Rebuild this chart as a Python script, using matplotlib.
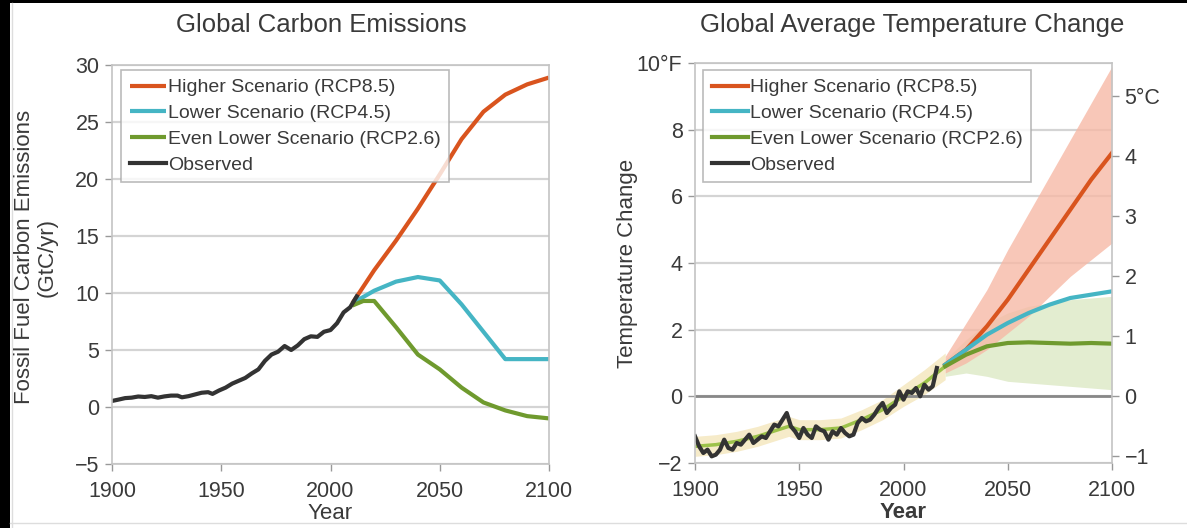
import matplotlib
matplotlib.use("Agg")
import matplotlib.pyplot as plt
from matplotlib.patches import Rectangle
from matplotlib.lines import Line2D

plt.rcParams['font.family'] = ['Liberation Sans', 'DejaVu Sans']

# ---------------- data: carbon emissions (GtC/yr) ----------------
obs_em_years = [1900, 1903, 1906, 1909, 1912, 1915, 1918, 1921, 1924, 1927, 1930, 1932, 1935,
                1938, 1941, 1944, 1946, 1949, 1952, 1955, 1958, 1961, 1964, 1967, 1970, 1973,
                1976, 1979, 1982, 1985, 1988, 1991, 1994, 1997, 2000, 2003, 2006, 2009, 2012]
obs_em = [0.53, 0.65, 0.78, 0.82, 0.92, 0.88, 0.95, 0.82, 0.93, 1.0, 1.0, 0.85, 0.95,
          1.1, 1.25, 1.3, 1.15, 1.45, 1.7, 2.05, 2.3, 2.55, 2.95, 3.3, 4.05, 4.6,
          4.85, 5.35, 5.0, 5.4, 5.95, 6.2, 6.15, 6.6, 6.75, 7.35, 8.3, 8.75, 9.7]

em_proj_years = [2010, 2020, 2030, 2040, 2050, 2060, 2070, 2080, 2090, 2100]
em_rcp85 = [9.1, 12.0, 14.6, 17.4, 20.4, 23.5, 25.9, 27.4, 28.3, 28.9]
em_rcp45 = [9.1, 10.2, 11.0, 11.4, 11.1, 9.0, 6.6, 4.2, 4.2, 4.2]
em26_years = [2010, 2015, 2020, 2030, 2040, 2050, 2060, 2070, 2080, 2090, 2100]
em_rcp26 = [8.9, 9.3, 9.3, 7.0, 4.6, 3.3, 1.7, 0.4, -0.3, -0.8, -1.0]

em_yticks = [-5, 0, 5, 10, 15, 20, 25, 30]
em_yticklabels = ['\u22125', '0', '5', '10', '15', '20', '25', '30']
xticks = [1900, 1950, 2000, 2050, 2100]

# ---------------- data: temperature change (°F) ----------------
obs_t_years = list(range(1900, 2017, 2))
obs_t = [-1.2, -1.5, -1.7, -1.6, -1.8, -1.75, -1.6, -1.3, -1.55, -1.6,
         -1.4, -1.45, -1.3, -1.15, -1.4, -1.3, -1.2, -1.25, -1.05, -0.85,
         -0.9, -0.7, -0.5, -0.9, -1.05, -1.25, -0.95, -1.15, -1.25, -0.9,
         -1.0, -1.05, -1.3, -1.05, -1.15, -0.95, -1.1, -1.2, -1.15, -0.8,
         -0.65, -0.75, -0.7, -0.55, -0.35, -0.2, -0.5, -0.35, -0.25, 0.15,
         -0.1, 0.15, 0.1, 0.25, 0.0, 0.35, 0.2, 0.3, 0.85]

hist_years = [1900, 1910, 1920, 1930, 1940, 1945, 1950, 1960, 1970, 1980, 1990, 2000, 2010, 2020]
hist_mean = [-1.5, -1.45, -1.35, -1.2, -1.0, -0.9, -1.0, -1.0, -0.95, -0.7, -0.4, 0.0, 0.4, 0.9]
hist_low = [-1.8, -1.75, -1.65, -1.5, -1.3, -1.2, -1.3, -1.3, -1.25, -1.0, -0.7, -0.3, 0.05, 0.5]
hist_high = [-1.2, -1.15, -1.05, -0.9, -0.7, -0.6, -0.7, -0.7, -0.65, -0.4, -0.1, 0.35, 0.8, 1.3]

t_proj_years = [2020, 2030, 2040, 2050, 2060, 2070, 2080, 2090, 2100]
t_rcp85 = [0.95, 1.4, 2.1, 2.9, 3.8, 4.7, 5.6, 6.5, 7.3]
t_rcp85_low = [0.7, 1.0, 1.4, 1.9, 2.4, 3.0, 3.6, 4.1, 4.6]
t_rcp85_high = [1.2, 2.2, 3.2, 4.4, 5.5, 6.6, 7.7, 8.8, 9.9]
t_rcp45 = [0.95, 1.4, 1.85, 2.2, 2.5, 2.75, 2.95, 3.05, 3.15]
t_rcp26 = [0.9, 1.25, 1.5, 1.6, 1.62, 1.6, 1.58, 1.6, 1.58]
t_rcp26_low = [0.6, 0.7, 0.6, 0.45, 0.4, 0.35, 0.3, 0.25, 0.2]
t_rcp26_high = [1.1, 1.7, 2.2, 2.5, 2.7, 2.8, 2.9, 2.95, 3.0]

t_yticks = [-2, 0, 2, 4, 6, 8, 10]
t_yticklabels = ['\u22122', '0', '2', '4', '6', '8', '10\u00b0F']
c_yticks = [-1, 0, 1, 2, 3, 4, 5]
c_yticklabels = ['\u22121', '0', '1', '2', '3', '4', '5\u00b0C']

labels = ['Higher Scenario (RCP8.5)', 'Lower Scenario (RCP4.5)',
          'Even Lower Scenario (RCP2.6)', 'Observed']

# ---------------- styles ----------------
RED = '#d9541e'
CYAN = '#45b5c4'
GREEN = '#6f9a2e'
BLACK = '#333333'
TXT = '#3a3a3a'
GRID = '#d4d4d4'
SPINE = '#c4c4c4'

W, H = 1187, 528
fig = plt.figure(figsize=(W / 100, H / 100), dpi=100, facecolor='black')
fig.patches.append(Rectangle((10 / W, 0), 1 - 10 / W, 1 - 3 / H, transform=fig.transFigure,
                             facecolor='white', edgecolor='none', zorder=-10))
fig.lines.append(Line2D([12 / W, 12 / W], [0, 1 - 3 / H], transform=fig.transFigure,
                        color='#dddddd', lw=1))
fig.lines.append(Line2D([10 / W, 1], [5 / H, 5 / H], transform=fig.transFigure,
                        color='#dddddd', lw=1))


def style_axes(ax):
    for s in ax.spines.values():
        s.set_color(SPINE)
        s.set_linewidth(1.2)
    ax.tick_params(axis='both', colors='#999999', labelcolor=TXT, labelsize=15.5,
                   length=5, width=1)
    ax.tick_params(axis='y', pad=4)
    ax.tick_params(axis='x', pad=7)
    ax.yaxis.grid(True, color=GRID, lw=1.6)
    ax.xaxis.grid(False)
    ax.set_axisbelow(True)


def make_legend(ax, x_px):
    leg = ax.legend(loc='upper left', bbox_to_anchor=(x_px / W, 1 - 70 / H),
                    bbox_transform=fig.transFigure, fontsize=14, frameon=True,
                    fancybox=False, handlelength=1.85, handletextpad=0.1,
                    labelspacing=0.42, borderpad=0.45, borderaxespad=0)
    leg.get_frame().set_edgecolor('#aaaaaa')
    leg.get_frame().set_linewidth(1.2)
    for t in leg.get_texts():
        t.set_color(TXT)
    leg.set_zorder(5)
    return leg


# ---------------- left panel ----------------
ax1 = fig.add_axes([112 / W, 1 - 464 / H, (549 - 112) / W, (464 - 65) / H])
style_axes(ax1)
ax1.plot(em_proj_years, em_rcp85, color=RED, lw=3, solid_capstyle='butt', label=labels[0])
ax1.plot(em_proj_years, em_rcp45, color=CYAN, lw=3, solid_capstyle='butt', label=labels[1])
ax1.plot(em26_years, em_rcp26, color=GREEN, lw=3, solid_capstyle='butt', label=labels[2])
ax1.plot(obs_em_years, obs_em, color=BLACK, lw=3, label=labels[3])
ax1.set_xlim(1900, 2100)
ax1.set_ylim(-5, 30)
ax1.set_xticks(xticks)
ax1.set_yticks(em_yticks)
ax1.set_yticklabels(em_yticklabels)
ax1.set_xlabel('Year', fontsize=16, color=TXT, labelpad=1)
fig.text(321 / W, 1 - 25 / H, 'Global Carbon Emissions', ha='center', va='center',
         fontsize=18.5, color=TXT)
fig.text(36 / W, 1 - 257 / H, 'Fossil Fuel Carbon Emissions\n(GtC/yr)', ha='center',
         va='center', rotation=90, fontsize=16, color=TXT, linespacing=1.1)
make_legend(ax1, 121)

# ---------------- right panel ----------------
ax2 = fig.add_axes([695 / W, 1 - 463 / H, (1112 - 695) / W, (463 - 63) / H])
style_axes(ax2)
ax2.fill_between(hist_years, hist_low, hist_high, color='#f4e6bc', alpha=0.8, lw=0)
ax2.fill_between(t_proj_years, t_rcp26_low, t_rcp26_high, color='#e3edd0', lw=0)
ax2.fill_between(t_proj_years, t_rcp85_low, t_rcp85_high, color='#f7b9a6', alpha=0.8, lw=0)
ax2.axhline(0, color='#888888', lw=2, zorder=1.5)
ax2.plot(hist_years, hist_mean, color='#9cc24a', lw=2.5)
ax2.plot(t_proj_years, t_rcp85, color=RED, lw=3, label=labels[0])
ax2.plot(t_proj_years, t_rcp45, color=CYAN, lw=3, label=labels[1])
ax2.plot(t_proj_years, t_rcp26, color=GREEN, lw=3, label=labels[2])
ax2.plot(obs_t_years, obs_t, color=BLACK, lw=3, label=labels[3])
ax2.set_xlim(1900, 2100)
ax2.set_ylim(-2, 10)
ax2.set_xticks(xticks)
ax2.set_yticks(t_yticks)
ax2.set_yticklabels(t_yticklabels)
ax2.set_xlabel('Year', fontsize=16, color=TXT, labelpad=1, fontweight='bold')
fig.text(912 / W, 1 - 25 / H, 'Global Average Temperature Change', ha='center',
         va='center', fontsize=18.5, color=TXT)
fig.text(628 / W, 1 - 263 / H, 'Temperature Change', ha='center', va='center',
         rotation=90, fontsize=16, color=TXT)

axc = ax2.twinx()
axc.set_ylim(-2 / 1.8, 10 / 1.8)
axc.set_yticks(c_yticks)
axc.set_yticklabels(c_yticklabels)
for s in axc.spines.values():
    s.set_visible(False)
axc.tick_params(axis='y', colors='#999999', labelcolor=TXT, labelsize=15.5,
                length=5, width=1, pad=4)

make_legend(ax2, 703)

fig.savefig('out.png', dpi=100, facecolor=fig.get_facecolor())
